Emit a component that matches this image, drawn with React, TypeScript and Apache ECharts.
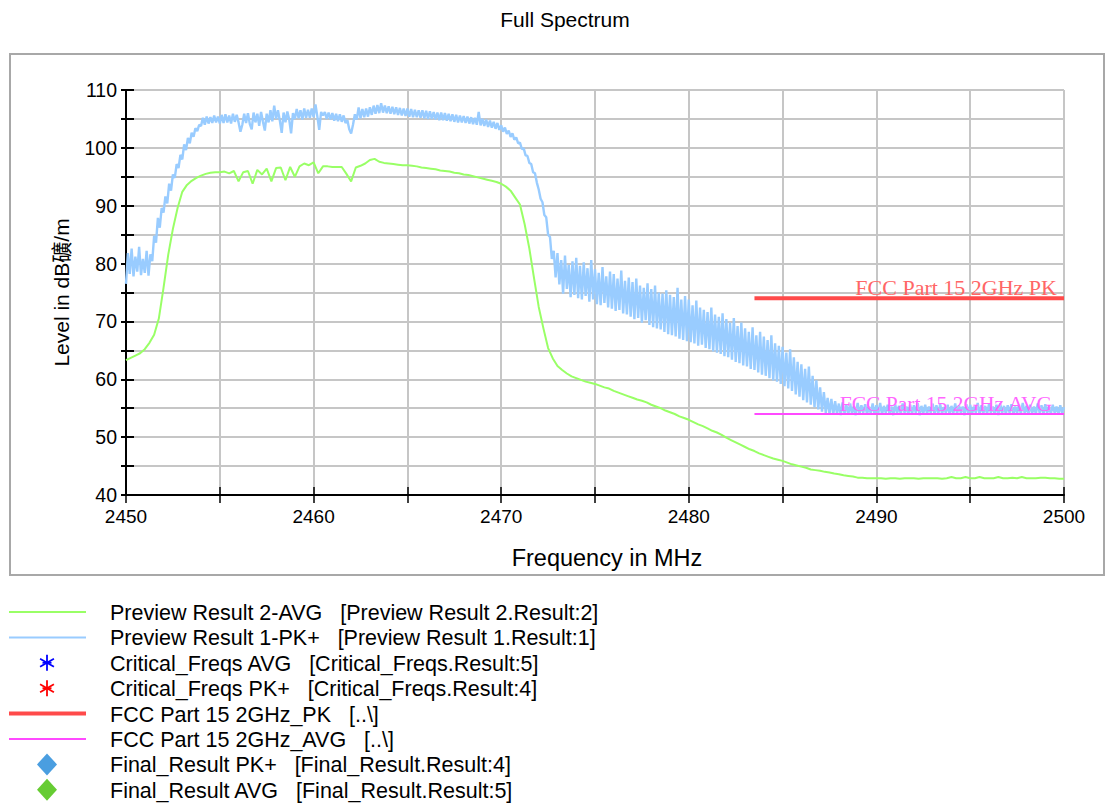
import React, { useEffect, useRef } from "react";
import * as echarts from "echarts";

// ---- data ----
const PK_START = 2450;
const PK_STEP = 0.1;
const pkLevels = [
  76.5, 81.8, 78.2, 82.6, 77.8, 81.2, 78.6, 82.9, 78.0, 80.8, // 2450
  78.4, 82.2, 77.9, 81.6, 80.4, 84.8, 83.6, 87.9, 86.2, 89.6, // 2451
  88.8, 91.6, 90.4, 93.8, 92.6, 95.4, 94.8, 97.2, 96.5, 98.8, // 2452
  98.0, 100.6, 99.6, 101.7, 100.8, 102.6, 101.9, 103.4, 102.9, 104.0, // 2453
  103.8, 105.2, 104.0, 105.4, 104.2, 105.3, 104.3, 105.6, 104.4, 105.4, // 2454
  104.2, 105.7, 104.3, 105.8, 104.4, 105.6, 104.2, 105.9, 104.5, 105.7, // 2455
  104.4, 102.8, 104.0, 105.9, 104.3, 106.0, 104.1, 103.2, 106.1, 104.4, // 2456
  105.9, 103.8, 106.2, 104.5, 103.0, 105.9, 104.4, 106.5, 104.6, 107.3, // 2457
  105.0, 106.5, 104.7, 102.6, 106.1, 104.4, 106.3, 104.9, 102.5, 106.0, // 2458
  105.0, 106.7, 105.1, 106.5, 104.9, 106.8, 105.2, 106.6, 105.2, 106.8, // 2459
  105.3, 107.5, 105.4, 103.1, 106.2, 105.6, 106.2, 105.0, 106.1, 104.9, // 2460
  106.0, 104.7, 105.9, 104.6, 105.8, 104.5, 105.6, 104.3, 104.8, 103.2, // 2461
  102.5, 104.0, 105.8, 104.9, 107.0, 105.1, 106.7, 105.3, 106.8, 105.4, // 2462
  107.0, 105.7, 107.3, 105.9, 107.4, 106.0, 107.7, 106.1, 107.3, 106.0, // 2463
  107.2, 105.9, 107.1, 105.8, 107.0, 105.7, 106.9, 105.6, 106.8, 105.5, // 2464
  106.8, 105.4, 106.7, 105.3, 106.6, 105.3, 106.5, 105.2, 106.5, 105.1, // 2465
  106.4, 105.0, 106.3, 105.0, 106.2, 104.9, 106.1, 104.8, 106.1, 104.8, // 2466
  106.0, 104.7, 105.9, 104.6, 105.8, 104.5, 105.7, 104.4, 105.6, 104.4, // 2467
  105.5, 104.3, 105.4, 104.2, 105.3, 104.1, 105.2, 104.0, 106.2, 103.9, // 2468
  105.0, 103.8, 104.9, 103.6, 104.7, 103.5, 104.5, 103.3, 104.3, 103.1, // 2469
  103.9, 102.8, 103.5, 102.4, 103.0, 101.9, 102.5, 101.4, 101.8, 100.8, // 2470
  100.9, 99.8, 99.9, 98.7, 98.6, 97.4, 97.2, 95.8, 95.6, 94.0, // 2471
  92.8, 91.2, 90.6, 88.4, 88.0, 85.0, 84.6, 80.8, 82.2, 77.6, // 2472
  81.8, 76.4, 80.6, 74.8, 81.4, 75.6, 79.8, 74.2, 80.4, 74.6, // 2473
  81.0, 74.0, 79.6, 73.8, 80.2, 74.4, 79.2, 73.4, 80.6, 73.8, // 2474
  79.0, 73.0, 78.4, 72.8, 79.4, 73.2, 77.8, 72.4, 78.6, 72.2, // 2475
  78.2, 71.8, 77.4, 72.0, 78.8, 71.4, 77.0, 71.2, 77.6, 70.8, // 2476
  76.8, 70.4, 77.4, 70.6, 76.2, 69.8, 75.8, 70.2, 76.6, 69.4, // 2477
  75.6, 69.0, 76.2, 68.8, 75.0, 68.6, 74.8, 68.2, 75.4, 67.8, // 2478
  74.6, 67.6, 74.2, 67.4, 75.8, 67.0, 73.8, 66.8, 74.4, 66.6, // 2479
  73.8, 66.4, 72.8, 66.2, 73.6, 65.8, 72.4, 66.0, 72.0, 65.4, // 2480
  71.6, 65.2, 72.4, 64.8, 71.2, 64.6, 70.8, 64.4, 71.4, 64.0, // 2481
  70.4, 63.8, 69.8, 63.4, 70.6, 63.0, 69.2, 62.8, 69.8, 62.4, // 2482
  68.8, 62.2, 68.2, 61.8, 69.0, 61.6, 67.6, 61.2, 68.2, 60.8, // 2483
  67.4, 60.6, 66.8, 60.2, 67.6, 59.8, 66.2, 59.6, 65.8, 59.2, // 2484
  65.6, 58.8, 64.6, 58.4, 65.2, 58.0, 63.8, 57.4, 63.0, 57.0, // 2485
  62.6, 56.4, 61.8, 56.0, 62.2, 55.6, 60.6, 55.2, 59.8, 54.8, // 2486
  58.6, 54.4, 57.8, 54.2, 56.8, 54.0, 56.6, 53.9, 56.2, 54.0, // 2487
  55.8, 53.8, 56.0, 54.1, 55.6, 53.9, 55.8, 54.0, 55.4, 53.8, // 2488
  55.9, 54.0, 55.5, 54.2, 55.7, 53.9, 55.3, 54.1, 55.8, 54.0, // 2489
  55.5, 54.1, 55.9, 53.9, 55.4, 54.2, 55.6, 54.0, 55.3, 53.8, // 2490
  55.7, 54.1, 55.4, 54.0, 55.8, 54.2, 55.3, 53.9, 55.6, 54.0, // 2491
  55.5, 54.2, 55.9, 53.8, 55.4, 54.1, 55.6, 54.0, 55.3, 54.2, // 2492
  55.8, 53.9, 55.5, 54.1, 55.7, 54.0, 55.2, 54.2, 55.6, 53.9, // 2493
  55.4, 54.1, 55.8, 54.0, 55.5, 54.2, 55.3, 53.8, 55.7, 54.1, // 2494
  55.6, 54.0, 55.3, 54.2, 55.9, 53.9, 55.5, 54.1, 55.4, 54.0, // 2495
  55.7, 54.2, 55.3, 54.0, 55.6, 53.8, 55.8, 54.1, 55.4, 54.0, // 2496
  55.5, 54.2, 55.7, 53.9, 55.3, 54.1, 55.6, 54.0, 55.9, 54.2, // 2497
  55.4, 53.9, 55.6, 54.1, 55.3, 54.0, 55.8, 54.2, 55.5, 53.9, // 2498
  55.7, 54.1, 55.4, 54.0, 55.6, 54.2, 55.3, 53.9, 55.5, 54.1, // 2499
  55.2, // 2500
];

const AVG_START = 2450;
const AVG_STEP = 0.25;
const avgLevels = [
  // 2450.00 – 2454.75
  63.3, 63.7, 64.1, 64.5, 65.2, 66.3, 67.7, 70.5, 75.8, 81.5, 86.0, 89.6, 92.4, 93.6, 94.3, 94.8, 95.2, 95.5, 95.7, 95.8,
  // 2455.00 – 2459.75
  95.8, 95.9, 95.6, 96.0, 94.2, 95.8, 96.0, 93.8, 96.2, 95.4, 96.4, 94.2, 96.5, 96.6, 94.4, 96.7, 95.0, 96.8, 97.3, 97.0,
  // 2460.00 – 2464.75
  97.5, 95.6, 96.8, 96.8, 96.7, 96.7, 96.7, 95.5, 94.2, 96.6, 96.9, 97.3, 97.9, 98.1, 97.6, 97.4, 97.3, 97.2, 97.1, 97.0,
  // 2465.00 – 2469.75
  97.0, 96.9, 96.8, 96.6, 96.5, 96.4, 96.3, 96.1, 96.0, 95.9, 95.7, 95.6, 95.4, 95.3, 95.1, 94.9, 94.7, 94.5, 94.3, 94.1,
  // 2470.00 – 2474.75
  93.8, 93.3, 92.6, 91.4, 90.2, 86.8, 82.6, 77.5, 72.5, 68.8, 65.4, 63.6, 62.3, 61.6, 61.0, 60.5, 60.2, 59.9, 59.6, 59.4,
  // 2475.00 – 2479.75
  59.2, 58.9, 58.6, 58.4, 58.0, 57.7, 57.4, 57.1, 56.8, 56.5, 56.3, 56.0, 55.6, 55.3, 55.0, 54.6, 54.3, 54.0, 53.6, 53.3,
  // 2480.00 – 2484.75
  53.0, 52.6, 52.2, 51.9, 51.5, 51.1, 50.8, 50.4, 49.9, 49.5, 49.1, 48.7, 48.3, 47.9, 47.6, 47.2, 46.9, 46.6, 46.3, 46.1,
  // 2485.00 – 2489.75
  45.9, 45.6, 45.3, 45.1, 44.9, 44.7, 44.4, 44.3, 44.2, 44.0, 43.9, 43.7, 43.6, 43.4, 43.3, 43.2, 43.0, 43.0, 42.9, 42.9,
  // 2490.00 – 2494.75
  42.9, 42.9, 42.8, 42.9, 42.9, 42.8, 42.9, 42.9, 42.9, 42.8, 42.9, 42.9, 42.9, 42.9, 42.8, 42.9, 43.1, 42.9, 42.9, 43.1,
  // 2495.00 – 2500.00
  42.9, 42.9, 43.1, 42.9, 42.9, 42.9, 43.1, 42.9, 42.9, 43.0, 42.9, 43.1, 42.9, 42.9, 42.9, 43.0, 43.0, 42.9, 42.9, 42.8, 42.8,
];

const pkLimit = [
  [2483.5, 74],
  [2500, 74],
];
const avgLimit = [
  [2483.5, 54],
  [2500, 54],
];

const pkLimitLabel = "FCC Part 15 2GHz PK";
const avgLimitLabel = "FCC Part 15 2GHz AVG";

const titleText = "Full Spectrum";
const xName = "Frequency in MHz";
const yName = "Level in dB礦/m";

const legendNames = [
  "Preview Result 2-AVG",
  "Preview Result 1-PK+",
  "Critical_Freqs AVG",
  "Critical_Freqs PK+",
  "FCC Part 15 2GHz_PK",
  "FCC Part 15 2GHz_AVG",
  "Final_Result PK+",
  "Final_Result AVG",
];
const legendRefs = [
  "[Preview Result 2.Result:2]",
  "[Preview Result 1.Result:1]",
  "[Critical_Freqs.Result:5]",
  "[Critical_Freqs.Result:4]",
  "[..\\]",
  "[..\\]",
  "[Final_Result.Result:4]",
  "[Final_Result.Result:5]",
];
const legendKinds = ["line", "line", "star", "star", "line", "line", "diamond", "diamond"];
const legendColors = ["#99ff66", "#99ccff", "#0000ff", "#ff0000", "#ff4a4a", "#ff4aff", "#4a9ee0", "#66cc33"];
const legendWidths = [2, 2, 1.5, 1.5, 4, 2, 0, 0];

const FONT = "'Liberation Sans', Arial, 'Noto Sans CJK SC', sans-serif";
const SERIF = "'Liberation Serif', 'Times New Roman', serif";

export default function App() {
  const ref = useRef<HTMLDivElement>(null);

  useEffect(() => {
    const el = ref.current;
    if (!el) return;
    const chart = echarts.init(el, null, { renderer: "svg" });

    const pkData = pkLevels.map((v, i) => [+(PK_START + i * PK_STEP).toFixed(2), v]);
    const avgData = avgLevels.map((v, i) => [+(AVG_START + i * AVG_STEP).toFixed(2), v]);

    const tenFormatter = (v: number) => (Math.round(v) % 10 === 0 ? String(Math.round(v)) : "");

    chart.setOption({
      animation: false,
      backgroundColor: "#ffffff",
      grid: { left: 126, top: 90, right: 42, bottom: 308, containLabel: false },
      xAxis: [
        {
          type: "value",
          interval: 5,
          min: 2450,
          max: 2500,
          position: "bottom",
          name: xName,
          nameLocation: "middle",
          nameGap: 51,
          nameTextStyle: { fontFamily: FONT, fontSize: 23.5, color: "#000", padding: [0, 0, 0, 24] },
          axisLine: { show: true, onZero: false, lineStyle: { color: "#000", width: 2 } },
          axisTick: { show: true, inside: true, length: 8, lineStyle: { color: "#000", width: 1.5 } },
          axisLabel: { margin: 12, fontFamily: FONT, fontSize: 19, color: "#000", formatter: tenFormatter },
          splitLine: { show: true, lineStyle: { color: "#c6c6c6", width: 2 } },
        },
        {
          type: "value",
          interval: 5,
          min: 2450,
          max: 2500,
          position: "bottom",
          offset: 0,
          axisLine: { show: false },
          axisTick: { show: true, inside: false, length: 8, lineStyle: { color: "#000", width: 1.5 } },
          axisLabel: { show: false },
          splitLine: { show: false },
        },
      ],
      yAxis: [
        {
          type: "value",
          interval: 5,
          min: 40,
          max: 110,
          position: "left",
          name: yName,
          nameLocation: "middle",
          nameGap: 54,
          nameTextStyle: { fontFamily: FONT, fontSize: 21, color: "#000" },
          axisLine: { show: true, onZero: false, lineStyle: { color: "#000", width: 2 } },
          axisTick: { show: true, inside: true, length: 8, lineStyle: { color: "#000", width: 2 } },
          axisLabel: { margin: 9, fontFamily: FONT, fontSize: 19.5, color: "#000", formatter: tenFormatter },
          splitLine: { show: true, lineStyle: { color: "#c6c6c6", width: 2 } },
        },
        {
          type: "value",
          interval: 5,
          min: 40,
          max: 110,
          position: "left",
          offset: 0,
          axisLine: { show: false },
          axisTick: { show: true, inside: false, length: 5, lineStyle: { color: "#000", width: 2 } },
          axisLabel: { show: false },
          splitLine: { show: false },
        },
      ],
      series: [
        {
          name: legendNames[1],
          type: "line",
          data: pkData,
          showSymbol: false,
          symbol: "none",
          lineStyle: { color: "#99ccff", width: 2.4 },
          z: 2,
        },
        {
          name: legendNames[0],
          type: "line",
          data: avgData,
          showSymbol: false,
          symbol: "none",
          lineStyle: { color: "#99ff66", width: 2 },
          z: 3,
        },
        {
          name: legendNames[4],
          type: "line",
          data: pkLimit,
          showSymbol: false,
          symbol: "none",
          lineStyle: { color: "#ff4a4a", width: 4 },
          z: 4,
        },
        {
          name: legendNames[5],
          type: "line",
          data: avgLimit,
          showSymbol: false,
          symbol: "none",
          lineStyle: { color: "#ff4aff", width: 2 },
          z: 4,
        },
      ],
    });

    const pkEnd = chart.convertToPixel({ xAxisIndex: 0, yAxisIndex: 0 }, pkLimit[1]) as number[];
    const avgEnd = chart.convertToPixel({ xAxisIndex: 0, yAxisIndex: 0 }, avgLimit[1]) as number[];

    const graphics: any[] = [];
    graphics.push({
      type: "rect",
      shape: { x: 10, y: 54, width: 1094, height: 521 },
      style: { fill: "none", stroke: "#a8a8a8", lineWidth: 2 },
      z: 0,
      silent: true,
    });
    graphics.push({
      type: "text",
      x: 565,
      y: 19,
      style: { text: titleText, fontFamily: FONT, fontSize: 21, fill: "#000", align: "center", verticalAlign: "middle" },
      z: 10,
    });
    graphics.push({
      type: "text",
      x: pkEnd[0] - 7,
      y: pkEnd[1] + 0.5,
      style: { text: pkLimitLabel, fontFamily: SERIF, fontSize: 22, fill: "#ff6666", align: "right", verticalAlign: "bottom" },
      z: 10,
    });
    graphics.push({
      type: "text",
      x: avgEnd[0] - 12,
      y: avgEnd[1] + 0.5,
      style: { text: avgLimitLabel, fontFamily: SERIF, fontSize: 21.5, fill: "#ff66ff", align: "right", verticalAlign: "bottom" },
      z: 10,
    });

    const rowY0 = 612;
    const rowGap = 25.4;
    const symX = 47;
    legendNames.forEach((name, i) => {
      const y = rowY0 + i * rowGap;
      const kind = legendKinds[i];
      const color = legendColors[i];
      if (kind === "line") {
        graphics.push({
          type: "line",
          shape: { x1: 9, y1: y, x2: 86, y2: y },
          style: { stroke: color, lineWidth: legendWidths[i] },
          z: 10,
        });
      } else if (kind === "star") {
        const r = 8;
        const children: any[] = [];
        [90, 30, 150].forEach((deg) => {
          const a = (deg * Math.PI) / 180;
          children.push({
            type: "line",
            shape: { x1: symX - r * Math.cos(a), y1: y - r * Math.sin(a), x2: symX + r * Math.cos(a), y2: y + r * Math.sin(a) },
            style: { stroke: color, lineWidth: 1.8 },
          });
        });
        children.push({
          type: "line",
          shape: { x1: symX - 4.5, y1: y, x2: symX + 4.5, y2: y },
          style: { stroke: color, lineWidth: 1.8 },
        });
        graphics.push({ type: "group", children, z: 10 });
      } else {
        graphics.push({
          type: "polygon",
          shape: {
            points: [
              [symX, y - 11],
              [symX + 10, y],
              [symX, y + 11],
              [symX - 10, y],
            ],
          },
          style: { fill: color },
          z: 10,
        });
      }
      graphics.push({
        type: "text",
        x: 110,
        y: y + 1,
        style: {
          text: name + "\u00a0\u00a0\u00a0" + legendRefs[i],
          fontFamily: FONT,
          fontSize: 21.5,
          fill: "#000",
          align: "left",
          verticalAlign: "middle",
        },
        z: 10,
      });
    });

    chart.setOption({ graphic: graphics });

    return () => chart.dispose();
  }, []);

  return (
    <div
      ref={ref}
      style={{ position: "fixed", left: 0, top: 0, width: 1106, height: 803, background: "#ffffff" }}
    />
  );
}
